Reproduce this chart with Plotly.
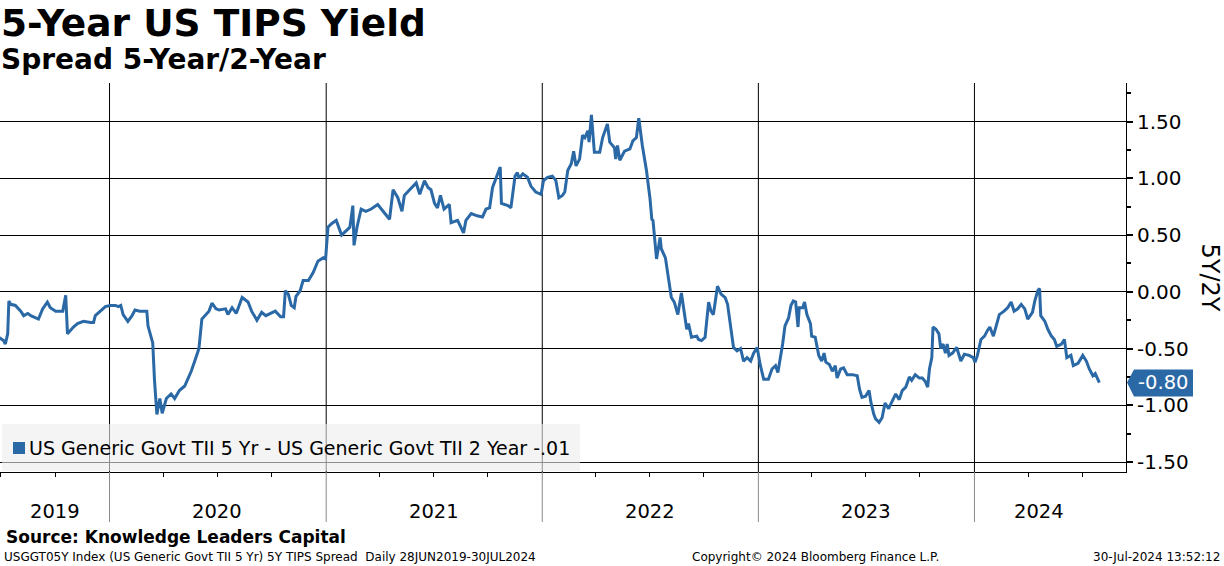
import pandas as pd
import plotly.graph_objects as go

# 5Y TIPS minus 2Y TIPS spread (month-day per year, value)
d2019 = ["06-28", "07-06", "07-09", "07-13", "07-15", "07-18", "07-26", "08-04", "08-09", "08-16",
         "08-21", "08-26", "09-03", "09-10", "09-18", "09-23", "10-02", "10-14", "10-19", "10-22",
         "10-27", "11-01", "11-08", "11-18", "11-30", "12-05", "12-08", "12-17", "12-25"]
v2019 = [-0.40, -0.43, -0.46, -0.37, -0.08, -0.11, -0.12, -0.17, -0.21, -0.19,
         -0.21, -0.22, -0.24, -0.15, -0.09, -0.14, -0.17, -0.17, -0.03, -0.37,
         -0.34, -0.31, -0.28, -0.26, -0.27, -0.27, -0.21, -0.17, -0.13]

d2020 = ["01-02", "01-11", "01-16", "01-20", "01-24", "02-01", "02-08", "02-13", "02-21", "03-04",
         "03-06", "03-14", "03-17", "03-21", "03-26", "03-30", "04-06", "04-14", "04-20", "04-28",
         "05-07", "05-12", "05-18", "05-24", "05-31", "06-05", "06-12", "06-17", "06-22", "06-29",
         "07-04", "07-15", "07-19", "07-26", "08-02", "08-12", "08-22", "08-28", "09-06", "09-14",
         "09-21", "09-29", "10-07", "10-16", "10-21", "10-24", "10-29", "11-03", "11-08", "11-11",
         "11-18", "11-23", "12-02", "12-10", "12-18", "12-27", "12-31"]
v2020 = [-0.12, -0.12, -0.13, -0.12, -0.20, -0.26, -0.21, -0.16, -0.17, -0.17,
         -0.30, -0.45, -0.78, -1.08, -0.94, -1.07, -0.94, -0.90, -0.94, -0.87,
         -0.83, -0.77, -0.70, -0.61, -0.50, -0.24, -0.20, -0.17, -0.10, -0.15,
         -0.16, -0.15, -0.20, -0.14, -0.19, -0.05, -0.09, -0.17, -0.25, -0.18,
         -0.21, -0.19, -0.17, -0.22, -0.22, 0.01, -0.02, -0.12, -0.14, -0.04,
         0.01, 0.10, 0.10, 0.17, 0.27, 0.30, 0.29]

d2021 = ["01-04", "01-10", "01-18", "01-27", "02-04", "02-10", "02-15", "02-17", "02-22", "03-01",
         "03-09", "03-18", "03-29", "04-07", "04-18", "04-24", "05-02", "05-09", "05-13", "05-22",
         "06-02", "06-08", "06-16", "06-22", "06-27", "07-03", "07-08", "07-13", "07-19", "07-28",
         "07-31", "08-11", "08-17", "08-21", "08-25", "09-03", "09-13", "09-22", "09-28", "10-04",
         "10-09", "10-18", "10-22", "10-24", "11-04", "11-09", "11-16", "11-20", "11-23", "11-29",
         "12-07", "12-13", "12-21", "12-30"]
v2021 = [0.57, 0.60, 0.63, 0.50, 0.54, 0.57, 0.76, 0.41, 0.57, 0.73,
         0.71, 0.73, 0.77, 0.71, 0.64, 0.90, 0.83, 0.71, 0.85, 0.90,
         0.96, 0.86, 0.98, 0.92, 0.90, 0.78, 0.74, 0.85, 0.73, 0.77,
         0.61, 0.63, 0.57, 0.52, 0.63, 0.69, 0.67, 0.66, 0.73, 0.74,
         0.92, 1.05, 1.10, 0.78, 0.76, 0.74, 1.02, 1.05, 1.00, 1.04,
         1.01, 0.93, 0.88, 0.86]

d2022 = ["01-03", "01-10", "01-18", "01-24", "01-29", "02-04", "02-08", "02-13", "02-19", "02-23",
         "02-27", "03-05", "03-10", "03-14", "03-19", "03-21", "03-25", "03-30", "04-08", "04-13",
         "04-21", "04-25", "05-03", "05-05", "05-08", "05-12", "05-20", "05-29", "06-03", "06-09",
         "06-13", "06-19", "06-26", "07-02", "07-05", "07-07", "07-13", "07-19", "07-21", "07-28",
         "08-01", "08-07", "08-12", "08-18", "08-24", "08-29", "09-02", "09-05", "09-10", "09-19",
         "09-22", "09-27", "10-03", "10-09", "10-13", "10-17", "10-24", "10-30", "11-06", "11-10",
         "11-15", "11-20", "11-26", "12-02", "12-07", "12-13", "12-19", "12-24", "12-30"]
v2022 = [0.98, 1.01, 1.02, 0.98, 0.83, 0.85, 0.88, 1.07, 1.13, 1.24,
         1.11, 1.17, 1.38, 1.36, 1.42, 1.32, 1.56, 1.23, 1.23, 1.36,
         1.48, 1.32, 1.27, 1.17, 1.29, 1.16, 1.24, 1.26, 1.33, 1.36,
         1.53, 1.29, 1.07, 0.82, 0.64, 0.63, 0.29, 0.48, 0.38, 0.30,
         0.16, -0.05, -0.09, -0.20, -0.01, -0.17, -0.33, -0.28, -0.40, -0.39,
         -0.42, -0.43, -0.40, -0.09, -0.17, -0.20, 0.05, -0.02, -0.05, -0.11,
         -0.28, -0.49, -0.52, -0.50, -0.61, -0.58, -0.61, -0.54, -0.49]

d2023 = ["01-04", "01-10", "01-18", "01-24", "01-30", "02-03", "02-07", "02-11", "02-15", "02-21",
         "02-25", "03-01", "03-05", "03-09", "03-11", "03-17", "03-20", "03-24", "03-30", "04-01",
         "04-07", "04-13", "04-18", "04-22", "04-25", "05-01", "05-06", "05-11", "05-14", "05-20",
         "05-25", "05-31", "06-09", "06-17", "06-21", "06-25", "07-01", "07-07", "07-10", "07-12",
         "07-15", "07-18", "07-24", "07-29", "08-03", "08-09", "08-14", "08-21", "08-27", "09-01",
         "09-07", "09-13", "09-17", "09-23", "09-30", "10-05", "10-10", "10-14", "10-17", "10-21",
         "10-23", "10-28", "11-02", "11-05", "11-09", "11-13", "11-16", "11-19", "11-25", "12-02",
         "12-09", "12-15", "12-23", "12-30"]
v2023 = [-0.64, -0.77, -0.77, -0.68, -0.65, -0.71, -0.59, -0.46, -0.30, -0.23,
         -0.12, -0.08, -0.09, -0.31, -0.14, -0.14, -0.09, -0.20, -0.28, -0.39,
         -0.40, -0.56, -0.61, -0.54, -0.62, -0.64, -0.70, -0.65, -0.76, -0.68,
         -0.67, -0.73, -0.73, -0.74, -0.86, -0.93, -0.92, -0.87, -0.97, -1.02,
         -1.08, -1.12, -1.15, -1.11, -0.98, -1.03, -0.98, -0.90, -0.95, -0.87,
         -0.84, -0.75, -0.78, -0.73, -0.76, -0.76, -0.79, -0.84, -0.68, -0.58,
         -0.31, -0.33, -0.37, -0.50, -0.46, -0.54, -0.46, -0.56, -0.54, -0.49,
         -0.61, -0.55, -0.56, -0.58]

d2024 = ["01-02", "01-06", "01-12", "01-18", "01-23", "01-27", "02-02", "02-06", "02-12", "02-20",
         "02-26", "03-03", "03-08", "03-14", "03-20", "03-26", "03-31", "04-08", "04-12", "04-17",
         "04-20", "04-22", "04-29", "05-04", "05-10", "05-15", "05-19", "05-27", "06-01", "06-05",
         "06-12", "06-16", "06-24", "07-02", "07-08", "07-13", "07-19", "07-23", "07-27", "07-30"]
v2024 = [-0.62, -0.56, -0.42, -0.39, -0.34, -0.31, -0.39, -0.31, -0.20, -0.17,
         -0.14, -0.09, -0.17, -0.15, -0.11, -0.15, -0.24, -0.18, -0.08, 0.01,
         0.03, -0.21, -0.26, -0.33, -0.39, -0.42, -0.48, -0.46, -0.42, -0.58,
         -0.56, -0.65, -0.63, -0.56, -0.61, -0.68, -0.74, -0.72, -0.77, -0.80]

# axis furniture
year_labels = ["2019", "2020", "2021", "2022", "2023", "2024"]
year_label_dates = ["2019-10-01", "2020-07-01", "2021-07-02", "2022-07-02", "2023-07-02", "2024-04-19"]
year_starts = ["2020-01-01", "2021-01-01", "2022-01-01", "2023-01-01", "2024-01-01"]
y_ticks = [-1.5, -1.0, -0.5, 0.0, 0.5, 1.0, 1.5]
y_ticktext = ["-1.50", "-1.00", "-0.50", "0.00", "0.50", "1.00", "1.50"]

parts = [("2019", d2019, v2019), ("2020", d2020, v2020), ("2021", d2021, v2021),
         ("2022", d2022, v2022), ("2023", d2023, v2023), ("2024", d2024, v2024)]
dates, values = [], []
for yr, ds, vs in parts:
    assert len(ds) == len(vs), yr
    dates += [f"{yr}-{d}" for d in ds]
    values += vs
dates = pd.to_datetime(dates)
last_val = values[-1]

BLUE = "#2b69a6"
FONT = "DejaVu Sans"
W, H = 1224, 566
PL, PR, PT, PB = 0, 1126, 83, 472   # plot box in pixels


def px_x(x):
    return (x - PL) / (PR - PL)


def px_y(y):
    return (PB - y) / (PB - PT)


fig = go.Figure()
fig.add_trace(go.Scatter(x=dates, y=values, mode="lines",
                         line=dict(color=BLUE, width=3),
                         showlegend=False, hoverinfo="skip"))

shapes = []
# year separators: black inside the plot, grey through the label band
for ys in year_starts:
    shapes.append(dict(type="line", xref="x", yref="paper", x0=ys, x1=ys, y0=0, y1=1,
                       line=dict(color="black", width=1), layer="between"))
    shapes.append(dict(type="line", xref="x", yref="paper", x0=ys, x1=ys, y0=px_y(522), y1=0,
                       line=dict(color="#8a8a8a", width=1)))

# legend panel
shapes.append(dict(type="rect", xref="paper", yref="paper",
                   x0=px_x(2), x1=px_x(580), y0=px_y(471), y1=px_y(424),
                   fillcolor="rgba(236,236,236,0.6)", line=dict(width=0), layer="above"))
shapes.append(dict(type="rect", xref="paper", yref="paper",
                   x0=px_x(13), x1=px_x(25), y0=px_y(454), y1=px_y(442),
                   fillcolor=BLUE, line=dict(width=0), layer="above"))

# last value tag with left pointer
shapes.append(dict(type="path", xref="paper", yref="y", xsizemode="pixel", ysizemode="pixel",
                   xanchor=1, yanchor=last_val,
                   path="M 1,0 L 8,13 L 67,13 L 67,-14 L 8,-14 Z",
                   fillcolor=BLUE, line=dict(width=0)))

annotations = [
    dict(text="<b>5-Year US TIPS Yield</b>", x=px_x(-1), y=px_y(23), font=dict(size=37.5)),
    dict(text="<b>Spread 5-Year/2-Year</b>", x=px_x(-1), y=px_y(60), font=dict(size=28)),
    dict(text="<b>Source: Knowledge Leaders Capital</b>", x=px_x(4), y=px_y(537), font=dict(size=17)),
    dict(text="USGGT05Y Index (US Generic Govt TII 5 Yr) 5Y TIPS Spread  Daily 28JUN2019-30JUL2024",
         x=px_x(2), y=px_y(557), font=dict(size=12)),
    dict(text="Copyright\u00a9 2024 Bloomberg Finance L.P.", x=px_x(815), y=px_y(557),
         xanchor="center", font=dict(size=12)),
    dict(text="30-Jul-2024 13:52:12", x=px_x(1222), y=px_y(557), xanchor="right", font=dict(size=12)),
    dict(text="US Generic Govt TII 5 Yr - US Generic Govt TII 2 Year -.01",
         x=px_x(27), y=px_y(448), font=dict(size=19)),
    dict(text="5Y/2Y", x=px_x(1210), y=0.5, xanchor="center", textangle=90, font=dict(size=24)),
]
for a in annotations:
    a.setdefault("xanchor", "left")
    a.update(xref="paper", yref="paper", yanchor="middle", showarrow=False)
    a["font"] = dict(family=FONT, color="black", **a["font"])

for lab, d in zip(year_labels, year_label_dates):
    annotations.append(dict(text=lab, x=d, xref="x", y=px_y(512), yref="paper",
                            xanchor="center", yanchor="middle", showarrow=False,
                            font=dict(family=FONT, size=19.5, color="black")))

annotations.append(dict(text=f"{last_val:.2f}", x=px_x(1163), xref="paper", y=last_val, yref="y",
                        xanchor="center", yanchor="middle", showarrow=False,
                        font=dict(family=FONT, size=19.5, color="white")))

fig.update_layout(
    width=W, height=H,
    margin=dict(l=PL, r=W - PR, t=PT, b=H - PB),
    paper_bgcolor="white", plot_bgcolor="white",
    shapes=shapes, annotations=annotations,
    font=dict(family=FONT, color="black"),
    xaxis=dict(type="date", range=["2019-06-30", "2024-09-13"],
               showgrid=False, zeroline=False, showline=True, linecolor="black", linewidth=1,
               ticks="", showticklabels=False, dtick="M12", tick0="2019-01-01",
               minor=dict(ticks="outside", ticklen=4, tickcolor="black", dtick="M3",
                          tick0="2019-01-01", showgrid=False)),
    yaxis=dict(side="right", range=[-1.588, 1.841],
               tickmode="array", tickvals=y_ticks, ticktext=y_ticktext,
               ticks="outside", ticklen=6, tickwidth=2, tickcolor="black",
               showgrid=True, gridcolor="black", gridwidth=1, zeroline=False,
               showline=True, linecolor="black", linewidth=1,
               tickfont=dict(family=FONT, size=20, color="black"),
               minor=dict(tickmode="linear", dtick=0.25, tick0=0, ticks="outside",
                          ticklen=4, tickcolor="black", showgrid=False)),
)

# page body has a default 8px margin; drop it so the figure fills the window
fig.write_html("out.html", config={"displayModeBar": False},
               post_script="document.body.style.margin='0';")
